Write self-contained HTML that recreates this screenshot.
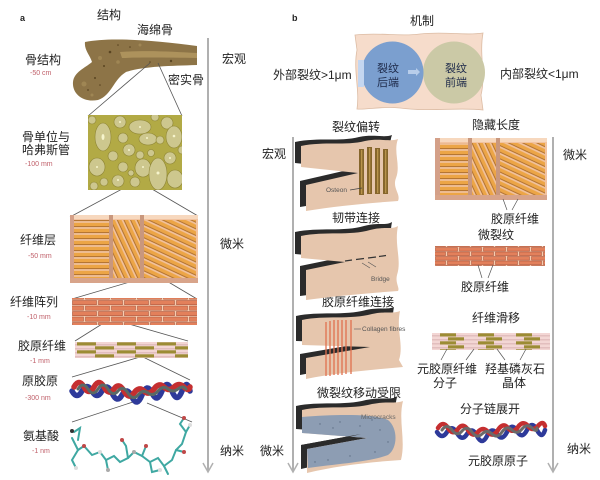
<!DOCTYPE html>
<html><head><meta charset="utf-8"><style>
html,body{margin:0;padding:0;background:#fff;}
svg{display:block;}
.t{font-family:"Liberation Sans","Noto Sans CJK SC",sans-serif;font-size:12px;fill:#222;}
.s{font-family:"Liberation Sans",sans-serif;font-size:7px;fill:#c0606a;}
.e{font-family:"Liberation Sans",sans-serif;font-size:6.5px;fill:#555;}
.c{font-family:"Liberation Sans","Noto Sans CJK SC",sans-serif;font-size:11px;fill:#1e2a4a;}
</style></head><body>
<svg width="600" height="480" viewBox="0 0 600 480" xmlns="http://www.w3.org/2000/svg">
<defs>
<pattern id="rodH" patternUnits="userSpaceOnUse" width="40" height="6"><rect x="0" y="0" width="40" height="6" fill="#f2c3a0"/><rect x="0" y="0.8" width="40" height="3.4" fill="#eca546"/><rect x="0" y="4.2" width="40" height="0.9" fill="#a8661f"/></pattern>
<pattern id="rodD1" patternUnits="userSpaceOnUse" width="40" height="6" patternTransform="rotate(65)"><rect x="0" y="0" width="40" height="6" fill="#f2c3a0"/><rect x="0" y="0.8" width="40" height="3.4" fill="#eca546"/><rect x="0" y="4.2" width="40" height="0.9" fill="#a8661f"/></pattern>
<pattern id="rodD2" patternUnits="userSpaceOnUse" width="40" height="6" patternTransform="rotate(25)"><rect x="0" y="0" width="40" height="6" fill="#f2c3a0"/><rect x="0" y="0.8" width="40" height="3.4" fill="#eca546"/><rect x="0" y="4.2" width="40" height="0.9" fill="#a8661f"/></pattern>
<pattern id="brick" patternUnits="userSpaceOnUse" x="72" y="300" width="26" height="11"><rect x="0" y="0" width="26" height="11" fill="#f6cdb0"/><rect x="0.5" y="0.5" width="24" height="4.2" fill="#e3805b" stroke="#a44e36" stroke-width="0.5"/><rect x="13.5" y="6" width="24" height="4.2" fill="#e3805b" stroke="#a44e36" stroke-width="0.5"/><rect x="-12.5" y="6" width="24" height="4.2" fill="#e3805b" stroke="#a44e36" stroke-width="0.5"/></pattern>
<pattern id="brick2" patternUnits="userSpaceOnUse" x="435" y="247" width="24" height="9"><rect x="0" y="0" width="24" height="9" fill="#f6cdb0"/><rect x="0.5" y="0.5" width="22" height="3.6" fill="#e3805b" stroke="#a44e36" stroke-width="0.5"/><rect x="12.5" y="5" width="22" height="3.6" fill="#e3805b" stroke="#a44e36" stroke-width="0.5"/><rect x="-11.5" y="5" width="22" height="3.6" fill="#e3805b" stroke="#a44e36" stroke-width="0.5"/></pattern>
<pattern id="fib" patternUnits="userSpaceOnUse" x="75" y="342" width="40" height="8"><rect x="0" y="0" width="40" height="8" fill="#f3d6d4"/><rect x="0" y="2.6" width="40" height="0.6" fill="#c99c9c"/><rect x="0" y="6.6" width="40" height="0.6" fill="#c99c9c"/><rect x="2" y="0.3" width="19" height="3.2" fill="#9c8c34"/><rect x="20" y="4.3" width="19" height="3.2" fill="#9c8c34"/></pattern>
<pattern id="fib2" patternUnits="userSpaceOnUse" x="432" y="333" width="38" height="8"><rect x="0" y="0" width="38" height="8" fill="#f3d6d4"/><rect x="0" y="2.6" width="38" height="0.6" fill="#c99c9c"/><rect x="0" y="6.6" width="38" height="0.6" fill="#c99c9c"/><rect x="8" y="0.3" width="16" height="3.2" fill="#9c8c34"/><rect x="16" y="4.3" width="16" height="3.2" fill="#9c8c34"/></pattern>
<clipPath id="ca1"><rect x="74" y="220" width="35" height="58"/></clipPath>
<clipPath id="ca2"><rect x="113" y="220" width="27" height="58"/></clipPath>
<clipPath id="ca3"><rect x="144" y="220" width="52" height="58"/></clipPath>
<clipPath id="cb1"><rect x="440" y="143" width="28" height="52"/></clipPath>
<clipPath id="cb2"><rect x="472" y="143" width="24" height="52"/></clipPath>
<clipPath id="cb3"><rect x="500" y="143" width="45" height="52"/></clipPath>
<clipPath id="cost"><rect x="88" y="115" width="94" height="75"/></clipPath>
</defs>

<!-- vertical arrows -->
<g stroke="#b0b0b0" stroke-width="2" fill="none">
<line x1="208" y1="38" x2="208" y2="471"/><polyline points="203,463 208,472 213,463" stroke-width="1.5"/>
<line x1="293" y1="137" x2="293" y2="471"/><polyline points="288,463 293,472 298,463" stroke-width="1.5"/>
<line x1="553" y1="137" x2="553" y2="471"/><polyline points="548,463 553,472 558,463" stroke-width="1.5"/>
</g>

<!-- ===== Panel a ===== -->
<text x="20" y="21" style="font-family:'Liberation Sans',sans-serif;font-size:9px;font-weight:bold;fill:#222">a</text>
<text class="t" x="97" y="19">结构</text>
<text class="t" x="137" y="34">海绵骨</text>
<text class="t" x="25" y="64">骨结构</text><text class="s" x="30" y="75">-50 cm</text>
<text class="t" x="168" y="84">密实骨</text>
<text class="t" x="22" y="141">骨单位与</text>
<text class="t" x="22" y="154">哈弗斯管</text><text class="s" x="25" y="166">-100 mm</text>
<text class="t" x="20" y="244">纤维层</text><text class="s" x="28" y="258">-50 mm</text>
<text class="t" x="10" y="306">纤维阵列</text><text class="s" x="27" y="319">-10 mm</text>
<text class="t" x="18" y="350">胶原纤维</text><text class="s" x="30" y="363">-1 mm</text>
<text class="t" x="22" y="385">原胶原</text><text class="s" x="25" y="400">-300 nm</text>
<text class="t" x="23" y="440">氨基酸</text><text class="s" x="32" y="453">-1 nm</text>
<text class="t" x="222" y="63">宏观</text>
<text class="t" x="220" y="248">微米</text>
<text class="t" x="220" y="455">纳米</text>

<!-- bone -->
<path d="M85,42 C110,37 150,40 197,46 L197,65 C170,66 145,66 126,72 C113,80 112,95 98,100 C82,103 72,93 73,82 C74,72 85,68 92,62 C90,55 84,50 85,42 Z" fill="#8d7447"/>
<path d="M120,52 C150,50 175,52 197,53 L197,58 C175,58 150,57 122,58 Z" fill="#b59a62" opacity="0.8"/>
<g fill="#5a4522"><circle cx="110" cy="52" r="1.3"/><circle cx="95" cy="78" r="1"/><circle cx="171" cy="61" r="1.2"/><circle cx="88" cy="90" r="0.9"/><circle cx="130" cy="47" r="0.8"/><circle cx="104" cy="66" r="1"/><circle cx="150" cy="62" r="0.8"/><circle cx="118" cy="45" r="0.8"/><circle cx="100" cy="85" r="0.8"/></g>
<g fill="#a88e5a" opacity="0.7"><circle cx="100" cy="58" r="2"/><circle cx="84" cy="84" r="2.5"/><circle cx="118" cy="62" r="1.8"/><circle cx="92" cy="95" r="1.5"/><circle cx="140" cy="45" r="1.5"/></g>

<!-- zoom lines -->
<g stroke="#555" stroke-width="0.8" fill="none">
<line x1="150" y1="63" x2="88" y2="116"/><line x1="158" y1="63" x2="182" y2="116"/>
<line x1="135" y1="182" x2="70" y2="217"/><line x1="140" y1="182" x2="198" y2="216"/>
<line x1="150" y1="276" x2="72" y2="299"/><line x1="160" y1="277" x2="197" y2="299"/>
<line x1="110" y1="319" x2="75" y2="341"/><line x1="115" y1="320" x2="188" y2="341"/>
<line x1="140" y1="357" x2="72" y2="377"/><line x1="143" y1="357" x2="190" y2="380"/>
<line x1="133" y1="402" x2="72" y2="422"/><line x1="147" y1="403" x2="192" y2="422"/>
</g>

<!-- osteon box -->
<rect x="88" y="115" width="94" height="75" fill="#b2aa45"/>
<g fill="#cdc78e" stroke="#8e8535" stroke-width="0.6" clip-path="url(#cost)">
<ellipse cx="103" cy="137" rx="8" ry="14"/><circle cx="120" cy="122" r="6"/><circle cx="123" cy="138" r="5"/>
<ellipse cx="140" cy="127" rx="11" ry="7"/><ellipse cx="148" cy="139" rx="9" ry="6"/><circle cx="167" cy="123" r="6"/>
<ellipse cx="174" cy="137" rx="8" ry="11"/><circle cx="160" cy="140" r="4"/><ellipse cx="97" cy="167" rx="8" ry="9"/>
<circle cx="113" cy="156" r="5"/><circle cx="129" cy="150" r="6"/><circle cx="140" cy="155" r="4"/><circle cx="151" cy="153" r="3.5"/>
<ellipse cx="143" cy="168" rx="8" ry="9"/><ellipse cx="158" cy="174" rx="9" ry="16"/><circle cx="170" cy="158" r="6"/>
<ellipse cx="175" cy="179" rx="8" ry="9"/><circle cx="123" cy="167" r="5"/><circle cx="118" cy="181" r="6"/><circle cx="135" cy="182" r="5"/>
<circle cx="94" cy="186" r="4"/><circle cx="92" cy="120" r="4"/><circle cx="131" cy="173" r="3"/><circle cx="104" cy="182" r="4"/><circle cx="182" cy="150" r="4"/><circle cx="155" cy="117" r="4"/>
</g>
<g fill="#f6f4cc"><ellipse cx="103" cy="137" rx="1.5" ry="3"/><circle cx="120" cy="122" r="1"/><circle cx="140" cy="127" r="1"/><circle cx="174" cy="136" r="1.3"/><circle cx="97" cy="167" r="1"/><circle cx="158" cy="173" r="1.5"/><circle cx="143" cy="167" r="1"/><circle cx="170" cy="158" r="1"/><circle cx="129" cy="150" r="1"/><circle cx="118" cy="180" r="1"/><circle cx="147" cy="138" r="1"/></g>

<!-- fiber layer a -->
<rect x="70" y="215" width="128" height="68" fill="#f2c3a0"/>
<rect x="70" y="215" width="128" height="4" fill="#f7d8be"/>
<rect x="70" y="215" width="4" height="68" fill="#d4a088"/>
<rect x="109" y="215" width="4" height="68" fill="#c9977d"/>
<rect x="140" y="215" width="4" height="68" fill="#c9977d"/>
<rect x="70" y="278" width="128" height="5" fill="#d8a48a"/>
<rect x="74" y="220" width="35" height="58" fill="url(#rodH)" clip-path="url(#ca1)"/>
<rect x="113" y="220" width="27" height="58" fill="url(#rodD1)" clip-path="url(#ca2)"/>
<rect x="144" y="220" width="52" height="58" fill="url(#rodD2)" clip-path="url(#ca3)"/>

<!-- brick a -->
<rect x="72" y="298" width="125" height="27" fill="url(#brick)"/>
<!-- fibril a -->
<rect x="75" y="342" width="113" height="16" fill="url(#fib)"/>

<!-- helix a -->
<g fill="none" stroke-width="5.5" stroke-linecap="round">
<path d="M72,391 q5,9 10,0 t10,0 t10,0 t10,2 t10,2 t10,2 t10,-2 t10,-2 t10,-2 t10,0 t10,0 t8,0" stroke="#2e3a9a"/>
<path d="M74,387 q5,-9 10,0 t10,0 t10,0 t10,2 t10,2 t10,2 t10,-2 t10,-2 t10,-2 t10,0 t10,0 t6,0" stroke="#c52f30"/>
<path d="M78,389 q5,-8 10,0 t10,0 t10,0 t10,2 t10,2 t10,2 t10,-2 t10,-2 t10,-2 t10,0 t8,0" stroke="#5a6a66" stroke-width="3"/>
</g>

<!-- amino acid -->
<g stroke="#3fa8a2" stroke-width="2" fill="none" stroke-linecap="round">
<polyline points="72,438 78,450 84,446 92,455 100,452 106,460 114,456 120,462 128,458 134,452 142,456 150,462 158,458 164,466 172,460 176,450 182,444 186,432 190,425"/>
<polyline points="78,450 72,460 76,468"/><polyline points="106,460 108,470"/><polyline points="128,458 126,446 122,440"/>
<polyline points="150,462 152,472 160,470"/><polyline points="176,450 184,452"/><polyline points="186,432 180,424 184,418"/>
<polyline points="74,432 80,428 78,440"/><polyline points="164,466 168,474"/><polyline points="142,456 146,446"/>
</g>
<g><circle cx="72" cy="431" r="2" fill="#333"/><circle cx="84" cy="446" r="2" fill="#c04848"/><circle cx="100" cy="452" r="2" fill="#ddd"/><circle cx="122" cy="440" r="2" fill="#c04848"/><circle cx="134" cy="452" r="2" fill="#aaa"/><circle cx="146" cy="446" r="2" fill="#c04848"/><circle cx="160" cy="470" r="2" fill="#ddd"/><circle cx="184" cy="418" r="2" fill="#c04848"/><circle cx="190" cy="425" r="2" fill="#ddd"/><circle cx="76" cy="468" r="2" fill="#ddd"/><circle cx="108" cy="470" r="2" fill="#aaa"/><circle cx="184" cy="452" r="2" fill="#c04848"/></g>

<!-- ===== Panel b ===== -->
<text x="292" y="21" style="font-family:'Liberation Sans',sans-serif;font-size:9px;font-weight:bold;fill:#222">b</text>
<text class="t" x="410" y="25">机制</text>
<path d="M355,35 C380,32 400,37 420,34 C445,31 465,36 483,33 C479,55 486,75 481,95 L483,110 C460,107 430,112 400,108 C380,106 366,110 357,109 C360,90 353,70 357,50 Z" fill="#f6dccb" stroke="#dcbca4" stroke-width="0.8"/>
<circle cx="454" cy="72.5" r="31" fill="#cbc9a6"/>
<circle cx="392.5" cy="72.5" r="31" fill="#7b9fcf"/>
<rect x="358" y="60" width="6" height="27" fill="#c4d6f0"/>
<polygon points="408,70 416,70 416,68 420,72 416,76 416,74 408,74" fill="#b8cdea"/>
<text class="c" x="388" y="72" text-anchor="middle">裂纹</text>
<text class="c" x="388" y="86" text-anchor="middle">后端</text>
<text class="c" x="456" y="72" text-anchor="middle">裂纹</text>
<text class="c" x="456" y="86" text-anchor="middle">前端</text>
<text class="t" x="273" y="79">外部裂纹&gt;1μm</text>
<text class="t" x="500" y="78">内部裂纹&lt;1μm</text>

<text class="t" x="262" y="158">宏观</text>
<text class="t" x="260" y="455">微米</text>
<text class="t" x="563" y="159">微米</text>
<text class="t" x="567" y="453">纳米</text>

<text class="t" x="332" y="131">裂纹偏转</text>
<text class="t" x="332" y="222">韧带连接</text>
<text class="t" x="322" y="306">胶原纤维连接</text>
<text class="t" x="317" y="397">微裂纹移动受限</text>

<!-- crack 1 -->
<path transform="translate(-6,-4)" d="M301,146 C325,141 345,146 365,141 C380,138 390,142 398,139 C393,152 401,165 396,178 C392,188 401,194 398,201 C370,203 335,206 306,211 L306,185 L358,173 L301,167 Z" fill="#2b2b2b"/>
<path d="M301,146 C325,141 345,146 365,141 C380,138 390,142 398,139 C393,152 401,165 396,178 C392,188 401,194 398,201 C370,203 335,206 306,211 L306,185 L358,173 L301,167 Z" fill="#e6c6ad"/>
<g fill="#86662c"><rect x="359" y="149" width="5" height="46"/><rect x="367" y="147" width="5" height="47"/><rect x="375" y="148" width="5" height="46"/><rect x="383" y="149" width="5" height="45"/></g>
<g fill="#b8944c"><rect x="361" y="150" width="1.3" height="44"/><rect x="369" y="148" width="1.3" height="45"/><rect x="377" y="149" width="1.3" height="44"/><rect x="385" y="150" width="1.3" height="43"/></g>
<text class="e" x="326" y="192">Osteon</text>
<line x1="350" y1="190" x2="362" y2="188" stroke="#444" stroke-width="0.7"/>

<!-- crack 2 -->
<path transform="translate(-6,-4)" d="M301,236 C325,231 350,236 370,230 C385,226 392,230 398,226 C394,245 402,260 397,275 C395,283 400,288 398,291 C370,293 335,296 306,300 L306,270 L345,262 L301,258 Z" fill="#2b2b2b"/>
<path d="M301,236 C325,231 350,236 370,230 C385,226 392,230 398,226 C394,245 402,260 397,275 C395,283 400,288 398,291 C370,293 335,296 306,300 L306,270 L345,262 L301,258 Z" fill="#e6c6ad"/>
<g stroke="#333" stroke-width="1.2"><line x1="345" y1="261" x2="352" y2="260"/><line x1="356" y1="259.5" x2="364" y2="258.5"/><line x1="368" y1="258" x2="376" y2="257"/><line x1="379" y1="256.5" x2="386" y2="255.5"/></g>
<g stroke="#555" stroke-width="0.6"><line x1="362" y1="263" x2="370" y2="268"/><line x1="368" y1="262" x2="376" y2="267"/></g>
<text class="e" x="371" y="281">Bridge</text>

<!-- crack 3 -->
<path transform="translate(-6,-4)" d="M302,320 C325,315 350,320 372,314 C385,311 393,314 400,311 C396,330 404,345 399,360 L403,367 C370,370 335,373 306,379 L306,358 L370,347 L302,345 Z" fill="#2b2b2b"/>
<path d="M302,320 C325,315 350,320 372,314 C385,311 393,314 400,311 C396,330 404,345 399,360 L403,367 C370,370 335,373 306,379 L306,358 L370,347 L302,345 Z" fill="#e6c6ad"/>
<g stroke="#e0704e" stroke-width="1.3"><line x1="326" y1="322" x2="326" y2="376"/><line x1="330" y1="321" x2="330" y2="376"/><line x1="334" y1="320" x2="334" y2="375"/><line x1="338" y1="320" x2="338" y2="375"/><line x1="342" y1="320" x2="342" y2="375"/><line x1="346" y1="320" x2="346" y2="374"/><line x1="351" y1="320" x2="351" y2="374"/></g>
<line x1="354" y1="329" x2="361" y2="329" stroke="#666" stroke-width="0.7"/>
<text class="e" x="362" y="331">Collagen fibres</text>

<!-- crack 4 -->
<path transform="translate(-6,-4)" d="M302,410 C325,405 350,410 372,404 C387,401 395,404 403,401 C398,420 406,440 401,460 C370,462 335,466 307,473 L307,449 L367,438 L302,433 Z" fill="#2b2b2b"/>
<path d="M302,410 C325,405 350,410 372,404 C387,401 395,404 403,401 C398,420 406,440 401,460 C370,462 335,466 307,473 L307,449 L367,438 L302,433 Z" fill="#e6c6ad"/>
<path d="M302,417 C340,414 375,414 388,420 C398,428 398,448 388,455 C370,462 335,464 308,468 L307,449 L367,438 L302,433 Z" fill="#8d9db3"/>
<path transform="translate(-6,-4)" d="M307,449 L367,438 L307,453 Z" fill="#2b2b2b"/>
<g fill="#5e6e84"><circle cx="320" cy="424" r="0.7"/><circle cx="340" cy="422" r="0.7"/><circle cx="360" cy="426" r="0.7"/><circle cx="380" cy="430" r="0.7"/><circle cx="388" cy="442" r="0.7"/><circle cx="375" cy="452" r="0.7"/><circle cx="350" cy="456" r="0.7"/><circle cx="328" cy="460" r="0.7"/><circle cx="315" cy="462" r="0.7"/><circle cx="333" cy="428" r="0.7"/><circle cx="372" cy="420" r="0.7"/></g>
<text class="e" x="361" y="419" style="fill:#666">Microcracks</text>

<!-- right column -->
<text class="t" x="472" y="129">隐藏长度</text>
<rect x="435" y="138" width="112" height="62" fill="#f2c3a0"/>
<rect x="435" y="138" width="112" height="4" fill="#f7d8be"/>
<rect x="435" y="138" width="5" height="62" fill="#d4a088"/>
<rect x="468" y="138" width="4" height="62" fill="#c9977d"/>
<rect x="496" y="138" width="4" height="62" fill="#c9977d"/>
<rect x="435" y="195" width="112" height="5" fill="#d8a48a"/>
<rect x="440" y="143" width="28" height="52" fill="url(#rodH)" clip-path="url(#cb1)"/>
<rect x="472" y="143" width="24" height="52" fill="url(#rodD1)" clip-path="url(#cb2)"/>
<rect x="500" y="143" width="45" height="52" fill="url(#rodD2)" clip-path="url(#cb3)"/>
<g stroke="#555" stroke-width="0.7"><line x1="507" y1="210" x2="503" y2="199"/><line x1="512" y1="210" x2="518" y2="199"/></g>
<text class="t" x="491" y="223">胶原纤维</text>
<text class="t" x="478" y="239">微裂纹</text>
<rect x="435" y="246" width="110" height="20" fill="url(#brick2)"/>
<g stroke="#555" stroke-width="0.7"><line x1="482" y1="278" x2="478" y2="265"/><line x1="488" y1="278" x2="493" y2="265"/></g>
<text class="t" x="461" y="291">胶原纤维</text>
<text class="t" x="472" y="322">纤维滑移</text>
<rect x="432" y="333" width="118" height="17" fill="url(#fib2)"/>
<g stroke="#555" stroke-width="0.7"><line x1="441" y1="360" x2="447" y2="349"/><line x1="466" y1="360" x2="474" y2="349"/><line x1="505" y1="360" x2="497" y2="349"/><line x1="520" y1="360" x2="526" y2="349"/></g>
<text class="t" x="417" y="373">元胶原纤维</text>
<text class="t" x="433" y="387">分子</text>
<text class="t" x="485" y="373">羟基磷灰石</text>
<text class="t" x="502" y="387">晶体</text>
<text class="t" x="460" y="413">分子链展开</text>
<g fill="none" stroke-width="4.5" stroke-linecap="round">
<path d="M437,432 q5,8 10,0 t10,1 t10,1 t10,2 t10,0 t10,-2 t10,-2 t10,-1 t10,-1 t10,0 t8,0" stroke="#2e3a9a"/>
<path d="M438,428 q5,-8 10,0 t10,1 t10,1 t10,2 t10,0 t10,-2 t10,-2 t10,-1 t10,-1 t10,0 t7,0" stroke="#c52f30"/>
<path d="M442,430 q5,-7 10,0 t10,1 t10,1 t10,2 t10,0 t10,-2 t10,-2 t10,-1 t10,-1 t5,0" stroke="#6a6a6a" stroke-width="3"/>
</g>
<text class="t" x="468" y="465">元胶原原子</text>
</svg>
</body></html>
